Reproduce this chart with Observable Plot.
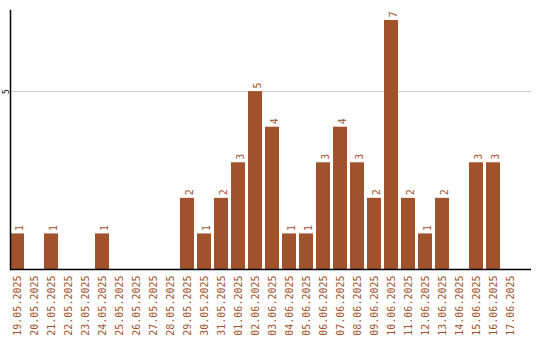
<!DOCTYPE html>
<html>
<head>
<meta charset="utf-8">
<script src="https://cdn.jsdelivr.net/npm/d3@7"></script>
<script src="https://cdn.jsdelivr.net/npm/@observablehq/plot@0.6"></script>
<style>
  html, body { margin: 0; padding: 0; background: #fff; }
</style>
</head>
<body>
<div id="chart"></div>
<script>
const dates = ["19.05.2025","20.05.2025","21.05.2025","22.05.2025","23.05.2025","24.05.2025","25.05.2025","26.05.2025","27.05.2025","28.05.2025","29.05.2025","30.05.2025","31.05.2025","01.06.2025","02.06.2025","03.06.2025","04.06.2025","05.06.2025","06.06.2025","07.06.2025","08.06.2025","09.06.2025","10.06.2025","11.06.2025","12.06.2025","13.06.2025","14.06.2025","15.06.2025","16.06.2025","17.06.2025"];
const counts = [1,0,1,0,0,1,0,0,0,0,2,1,2,3,5,4,1,1,3,4,3,2,7,2,1,2,0,3,3,0];
const yTicks = [5];

const data = dates.map((d, i) => ({date: d, value: counts[i]}));
const color = "#a0522d";
const font = "DejaVu Sans Mono";

const chart = Plot.plot({
  width: 540,
  height: 340,
  marginLeft: 10,
  marginRight: 9,
  marginTop: 10,
  marginBottom: 71,
  style: {background: "#fff", fontFamily: font},
  x: {domain: dates, paddingInner: 0.18, paddingOuter: 0.41, align: 0, label: null},
  y: {domain: [0, 7.28], label: null},
  marks: [
    Plot.ruleY(yTicks, {stroke: "#c8c8c8", strokeWidth: 1}),
    Plot.barY(data, {x: "date", y: "value", fill: color}),
    Plot.text(data.filter(d => d.value > 0), {
      x: "date", y: "value", text: d => String(d.value),
      rotate: -90, textAnchor: "start", dx: 2, dy: -3, fill: color,
      fontSize: 10, fontFamily: font
    }),
    Plot.axisX({
      tickSize: 0, tickPadding: 6, tickRotate: -90,
      fill: color, fontSize: 10, fontFamily: font, label: null
    }),
    Plot.axisY({
      ticks: yTicks, tickSize: 0, tickPadding: 2, tickRotate: -90,
      fontSize: 8, fontFamily: font, label: null, fill: "#000"
    }),
    Plot.ruleY([0], {stroke: "#000", strokeWidth: 1.5}),
    Plot.frame({anchor: "left", stroke: "#000", strokeWidth: 1.5})
  ]
});
document.getElementById("chart").appendChild(chart);
</script>
</body>
</html>
